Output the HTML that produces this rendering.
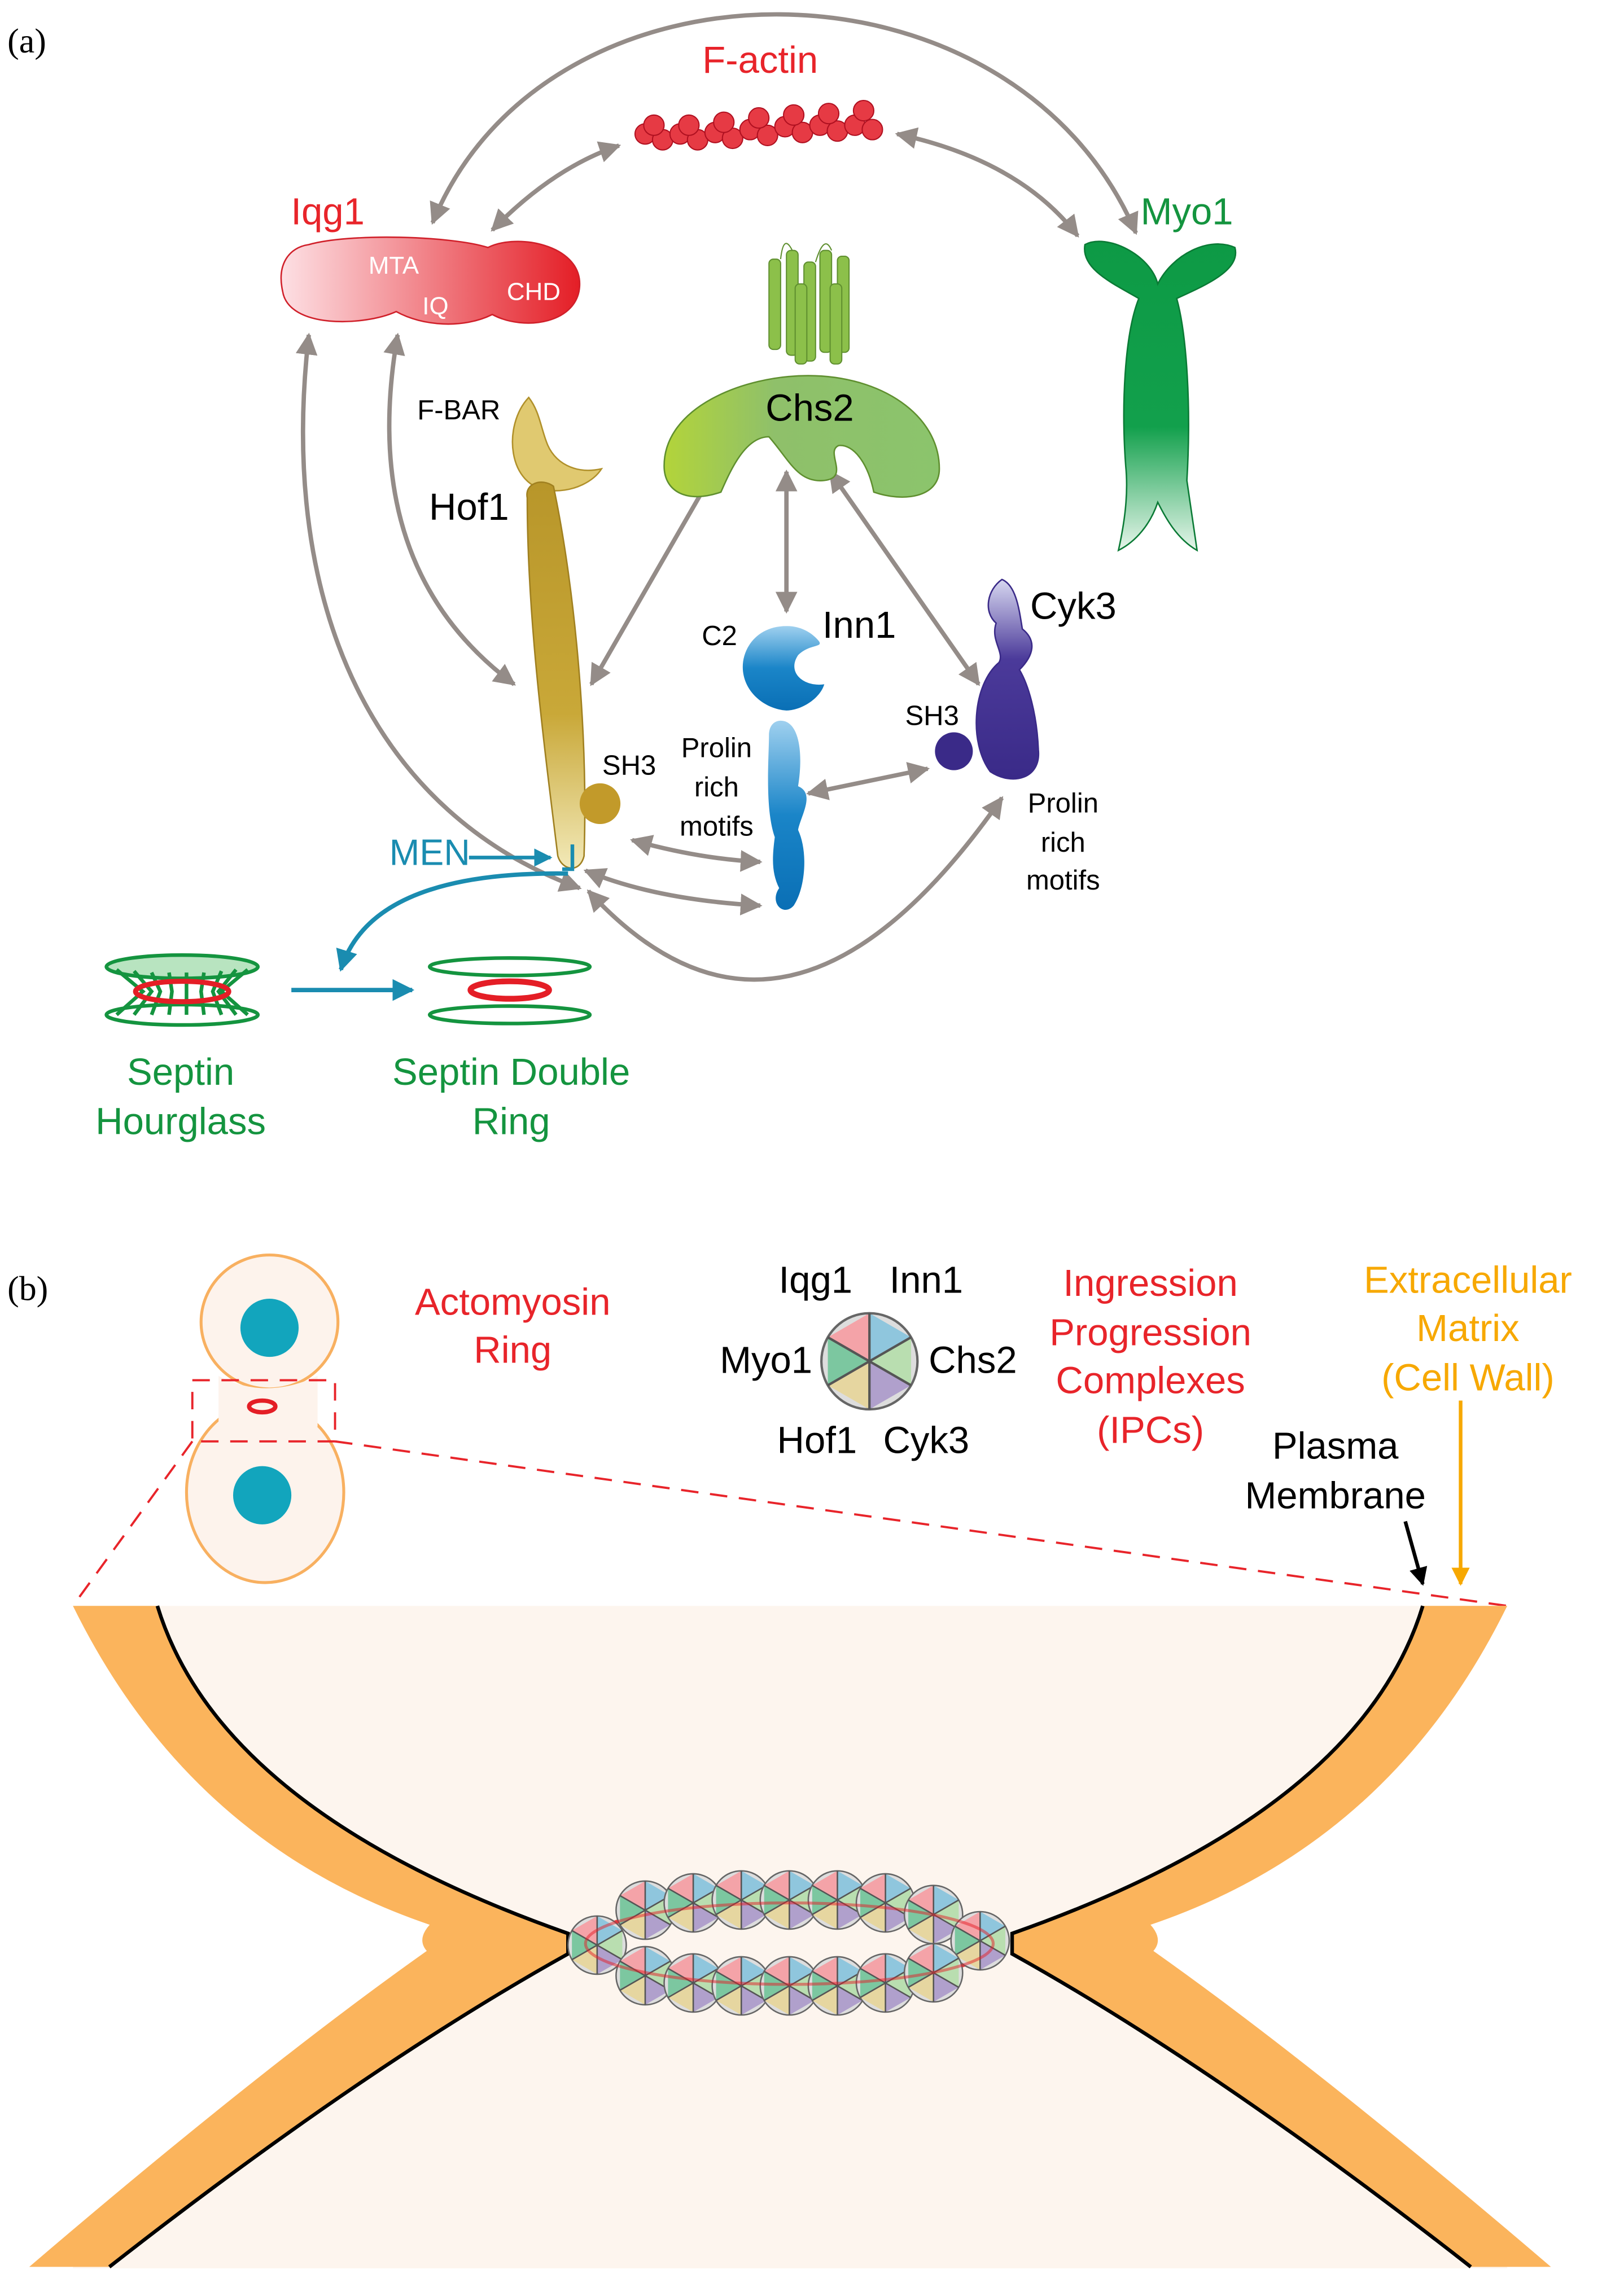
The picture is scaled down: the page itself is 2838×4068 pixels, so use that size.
<!DOCTYPE html>
<html><head><meta charset="utf-8"><style>
html,body{margin:0;padding:0;background:#fff}
svg{display:block}
text{font-family:"Liberation Sans",sans-serif}
</style></head><body>
<svg width="2838" height="4068" viewBox="0 0 1100 1577" xmlns="http://www.w3.org/2000/svg">
<defs>
<marker id="ah" viewBox="0 0 10 10" refX="9" refY="5" markerWidth="5" markerHeight="5" orient="auto-start-reverse"><path d="M0,0L10,5L0,10z" fill="#948c88"/></marker>
<marker id="bh" viewBox="0 0 10 10" refX="9" refY="5" markerWidth="5" markerHeight="5" orient="auto"><path d="M0,0L10,5L0,10z" fill="#1a8cb0"/></marker>
<marker id="kh" viewBox="0 0 10 10" refX="9" refY="5" markerWidth="5" markerHeight="5" orient="auto"><path d="M0,0L10,5L0,10z" fill="#000"/></marker>
<marker id="oh" viewBox="0 0 10 10" refX="9" refY="5" markerWidth="5" markerHeight="5" orient="auto"><path d="M0,0L10,5L0,10z" fill="#f7a800"/></marker>
<linearGradient id="gi" x1="0" x2="1"><stop offset="0" stop-color="#fde0e4"/><stop offset="1" stop-color="#e41e26"/></linearGradient>
<linearGradient id="gm" x1="0" y1="0" x2="0" y2="1"><stop offset="0" stop-color="#0d9a45"/><stop offset=".6" stop-color="#12a04c"/><stop offset="1" stop-color="#e6f5ea"/></linearGradient>
<linearGradient id="gc" x1="0" x2="1"><stop offset="0" stop-color="#b3d43a"/><stop offset=".4" stop-color="#8fc06a"/><stop offset="1" stop-color="#8bc46c"/></linearGradient>
<linearGradient id="gh" x1="0" y1="0" x2="0" y2="1"><stop offset="0" stop-color="#b8962a"/><stop offset=".6" stop-color="#c9a838"/><stop offset="1" stop-color="#f2e9b8"/></linearGradient>
<linearGradient id="gb" x1="0" y1="0" x2="0" y2="1"><stop offset="0" stop-color="#9fd0ef"/><stop offset=".5" stop-color="#1a85c8"/><stop offset="1" stop-color="#0a6fb5"/></linearGradient>
<linearGradient id="gp" x1="0" y1="0" x2="0" y2="1"><stop offset="0" stop-color="#d7d7f0"/><stop offset=".4" stop-color="#4b3a9a"/><stop offset="1" stop-color="#3a2a88"/></linearGradient>
<g id="pie">
<path d="M0,0L0,-1L.866,-.5z" fill="#8fc6dd"/>
<path d="M0,0L.866,-.5L.866,.5z" fill="#b9deb0"/>
<path d="M0,0L.866,.5L0,1z" fill="#b0a0cc"/>
<path d="M0,0L0,1L-.866,.5z" fill="#e6d6a0"/>
<path d="M0,0L-.866,.5L-.866,-.5z" fill="#7cc7a0"/>
<path d="M0,0L-.866,-.5L0,-1z" fill="#f4a3a8"/>
</g>
<g id="sp"><circle r="1" fill="#ddd"/><use href="#pie"/><circle r="1" fill="none" stroke="#666" stroke-width=".05"/><path d="M0,-1L0,1M-.866,-.5L.866,.5M-.866,.5L.866,-.5" stroke="#555" stroke-width=".05"/></g>
</defs>

<text x="5" y="36" font-size="24" style="font-family:'Liberation Serif',serif">(a)</text>
<text x="5" y="893" font-size="24" style="font-family:'Liberation Serif',serif">(b)</text>

<g fill="none" stroke="#948c88" stroke-width="3" marker-start="url(#ah)" marker-end="url(#ah)">
<path d="M297,153 C375,-39 695,-39 780,160"/>
<path d="M338,158 Q380,115 425,100"/>
<path d="M616,92 Q700,110 740,162"/>
<path d="M212,230 C190,420 260,560 398,610"/>
<path d="M273,230 Q245,390 353,470"/>
<path d="M406,470 L490,324"/>
<path d="M540,324 L540,420"/>
<path d="M570,324 L672,470"/>
<path d="M555,545 L637,528"/>
<path d="M434,577 Q480,590 522,592"/>
<path d="M402,598 Q450,618 522,622"/>
<path d="M404,612 Q540,760 688,548"/>
</g>

<text x="522" y="50" font-size="26" fill="#e8242a" text-anchor="middle">F-actin</text>
<g fill="#e63a44" stroke="#b01020" stroke-width=".8">
<circle cx="443" cy="92" r="7"/><circle cx="455" cy="96" r="7"/><circle cx="467" cy="92" r="7"/><circle cx="479" cy="96" r="7"/><circle cx="491" cy="91" r="7"/><circle cx="503" cy="95" r="7"/><circle cx="515" cy="89" r="7"/><circle cx="527" cy="93" r="7"/><circle cx="539" cy="87" r="7"/><circle cx="551" cy="91" r="7"/><circle cx="563" cy="86" r="7"/><circle cx="575" cy="90" r="7"/><circle cx="587" cy="86" r="7"/><circle cx="599" cy="89" r="7"/>
<circle cx="449" cy="86" r="7"/><circle cx="473" cy="86" r="7"/><circle cx="497" cy="84" r="7"/><circle cx="521" cy="81" r="7"/><circle cx="545" cy="79" r="7"/><circle cx="569" cy="78" r="7"/><circle cx="593" cy="76" r="7"/>
</g>

<text x="225" y="154" font-size="26" fill="#e8242a" text-anchor="middle">Iqg1</text>
<path d="M212,168 C240,160 310,162 335,170 C355,160 398,168 398,195 C398,222 360,228 338,216 C318,226 290,224 272,214 C250,224 198,226 194,200 C190,182 198,170 212,168Z" fill="url(#gi)" stroke="#d0202a" stroke-width="1"/>
<g fill="#fff" font-size="17"><text x="253" y="188">MTA</text><text x="290" y="216">IQ</text><text x="348" y="206">CHD</text></g>

<text x="815" y="154" font-size="26" fill="#14943f" text-anchor="middle">Myo1</text>
<path d="M745,168 C760,160 790,175 795,195 C805,175 830,162 848,170 C852,185 830,195 808,205 C815,230 818,280 815,330 C818,350 820,365 822,378 C808,370 800,355 795,345 C790,360 780,372 768,378 C772,360 775,340 773,320 C770,280 772,230 782,205 C765,195 742,185 745,168Z" fill="url(#gm)" stroke="#0a7a35" stroke-width="1"/>

<g fill="#8cc04a" stroke="#5f8f2f" stroke-width=".8">
<rect x="528" y="178" width="8" height="62" rx="3"/><rect x="540" y="172" width="8" height="72" rx="3"/><rect x="552" y="180" width="8" height="68" rx="3"/><rect x="563" y="172" width="8" height="70" rx="3"/><rect x="575" y="176" width="8" height="66" rx="3"/><rect x="546" y="195" width="8" height="55" rx="3"/><rect x="570" y="195" width="8" height="55" rx="3"/>
<path d="M536,178 Q538,160 544,172M560,180 Q566,160 571,172" fill="none"/>
</g>
<path d="M456,320 C456,280 510,258 555,258 C605,258 645,285 645,322 C645,342 620,345 600,338 C596,318 586,305 576,306 C566,310 584,328 566,330 C548,332 542,316 528,300 C512,300 502,322 495,338 C472,346 456,338 456,320Z" fill="url(#gc)" stroke="#5f8f2f" stroke-width="1"/>
<text x="556" y="289" font-size="26" text-anchor="middle">Chs2</text>

<text x="315" y="288" font-size="19" text-anchor="middle">F-BAR</text>
<text x="322" y="357" font-size="26" text-anchor="middle">Hof1</text>
<path d="M363,273 C345,292 348,335 378,337 C395,338 408,330 413,322 C395,326 380,318 375,303 C371,292 370,282 363,273Z" fill="#e0c970" stroke="#b0902a" stroke-width="1"/>
<path d="M362,342 C360,332 372,328 380,334 C394,400 404,500 401,588 C398,600 386,598 383,588 C372,500 362,420 362,342Z" fill="url(#gh)" stroke="#a08020" stroke-width="1"/>
<circle cx="412" cy="552" r="14" fill="#c29a2a"/>
<text x="432" y="532" font-size="19" text-anchor="middle">SH3</text>

<text x="494" y="443" font-size="19" text-anchor="middle">C2</text>
<text x="590" y="438" font-size="26" text-anchor="middle">Inn1</text>
<path d="M540,430 C520,430 510,445 510,458 C510,475 525,487 540,488 C550,488 563,480 566,470 C552,472 540,462 548,450 C556,442 566,445 562,440 C556,433 548,430 540,430Z" fill="url(#gb)"/>
<path d="M536,495 C548,495 552,515 548,540 C560,545 550,560 548,570 C555,585 553,610 545,622 C538,630 528,620 535,610 C530,600 530,590 532,575 C525,555 528,520 528,505 C528,498 532,495 536,495Z" fill="url(#gb)"/>
<g font-size="19" text-anchor="middle"><text x="492" y="520">Prolin</text><text x="492" y="547">rich</text><text x="492" y="574">motifs</text></g>

<text x="737" y="425" font-size="26" text-anchor="middle">Cyk3</text>
<path d="M688,398 C678,405 675,420 684,428 C680,440 690,448 686,455 C668,470 665,510 680,530 C695,540 715,535 713,515 C712,490 706,470 700,460 C710,450 712,440 702,432 C700,420 698,402 688,398Z" fill="url(#gp)" stroke="#3a2a88" stroke-width="1"/>
<circle cx="655" cy="516" r="13" fill="#3a2a88"/>
<text x="640" y="498" font-size="19" text-anchor="middle">SH3</text>
<g font-size="19" text-anchor="middle"><text x="730" y="558">Prolin</text><text x="730" y="585">rich</text><text x="730" y="611">motifs</text></g>

<text x="295" y="594" font-size="25" fill="#1a8cb0" text-anchor="middle">MEN</text>
<path d="M322,589 L378,589" stroke="#1a8cb0" stroke-width="2.5" marker-end="url(#bh)"/>
<path d="M393,580 L393,597 L386,597" stroke="#1a8cb0" stroke-width="2.5" fill="none"/>
<path d="M390,600 Q255,598 234,666" stroke="#1a8cb0" stroke-width="3" fill="none" marker-end="url(#bh)"/>
<path d="M200,680 L283,680" stroke="#1a8cb0" stroke-width="3" marker-end="url(#bh)"/>

<g stroke="#14943f" stroke-width="2.5" fill="none">
<ellipse cx="125" cy="664" rx="52" ry="8" fill="#b8e4c0"/>
<path d="M80,666 L98,681 L80,697 M170,666 L152,681 L170,697 M92,667 L104,681 L92,697 M104,668 L110,681 L104,697 M116,668 L118,681 L116,697 M128,668 L128,681 L128,697 M140,668 L138,681 L140,697 M152,667 L146,681 L152,697 M162,666 L150,681 L162,697"/>
<ellipse cx="125" cy="697" rx="52" ry="7"/>
</g>
<ellipse cx="125" cy="681" rx="32" ry="7" fill="none" stroke="#e41e26" stroke-width="3.5"/>
<ellipse cx="350" cy="664" rx="55" ry="6" fill="none" stroke="#14943f" stroke-width="2.5"/>
<ellipse cx="350" cy="680" rx="27" ry="6" fill="none" stroke="#e41e26" stroke-width="4"/>
<ellipse cx="350" cy="697" rx="55" ry="6" fill="none" stroke="#14943f" stroke-width="2.5"/>
<g font-size="26" fill="#14943f" text-anchor="middle"><text x="124" y="745">Septin</text><text x="124" y="779">Hourglass</text><text x="351" y="745">Septin Double</text><text x="351" y="779">Ring</text></g>

<ellipse cx="182" cy="1025" rx="54" ry="62" fill="#fdf3ec" stroke="#f8b060" stroke-width="2"/>
<ellipse cx="185" cy="908" rx="47" ry="46" fill="#fdf3ec" stroke="#f8b060" stroke-width="2"/>
<path d="M150,945 Q182,962 218,945 L218,980 Q182,960 150,980Z" fill="#fdf3ec"/>
<circle cx="185" cy="912" r="20" fill="#12a5bd"/>
<circle cx="180" cy="1027" r="20" fill="#12a5bd"/>
<ellipse cx="180" cy="966" rx="9" ry="4" fill="none" stroke="#e41e26" stroke-width="3"/>
<g stroke="#e8242a" stroke-width="1.5" stroke-dasharray="12 8" fill="none">
<rect x="132" y="948" width="98" height="42"/>
<path d="M132,990 L50,1103 M230,990 L1035,1103"/>
</g>
<g font-size="26" fill="#e8242a" text-anchor="middle"><text x="352" y="903">Actomyosin</text><text x="352" y="936">Ring</text>
<text x="790" y="890">Ingression</text><text x="790" y="924">Progression</text><text x="790" y="957">Complexes</text><text x="790" y="991">(IPCs)</text></g>
<g font-size="26" fill="#f7a800" text-anchor="middle"><text x="1008" y="888">Extracellular</text><text x="1008" y="921">Matrix</text><text x="1008" y="955">(Cell Wall)</text></g>
<g font-size="26" text-anchor="middle"><text x="917" y="1002">Plasma</text><text x="917" y="1036">Membrane</text>
<text x="560" y="888">Iqg1</text><text x="636" y="888">Inn1</text><text x="526" y="943">Myo1</text><text x="668" y="943">Chs2</text><text x="561" y="998">Hof1</text><text x="636" y="998">Cyk3</text></g>
<use href="#sp" transform="translate(597,935) scale(33)"/>
<path d="M965,1045 L977,1088" stroke="#000" stroke-width="2.5" marker-end="url(#kh)"/>
<path d="M1003,962 L1003,1088" stroke="#f7a800" stroke-width="2.5" marker-end="url(#oh)"/>

<rect x="50" y="1103" width="985" height="455" fill="#fdf5ee"/>
<path d="M0,1103 L50,1103 Q130,1266 295,1322 Q300,1335 293,1340 Q180,1420 20,1557 L0,1557Z M1100,1103 L1035,1103 Q955,1266 790,1322 Q785,1335 792,1340 Q905,1420 1065,1557 L1100,1557Z" fill="#fff"/>
<path d="M50,1103 L108,1103 Q151,1244 390,1328 L390,1342 Q250,1420 75,1557 L20,1557 Q180,1420 293,1340 Q286,1332 295,1322 Q130,1266 50,1103Z" fill="#fbb45c"/>
<path d="M1035,1103 L977,1103 Q934,1244 695,1328 L695,1342 Q835,1420 1010,1557 L1065,1557 Q905,1420 792,1340 Q799,1332 790,1322 Q955,1266 1035,1103Z" fill="#fbb45c"/>
<path d="M108,1103 Q151,1244 390,1328 L390,1342 Q250,1420 75,1557" fill="none" stroke="#000" stroke-width="2.5"/>
<path d="M977,1103 Q934,1244 695,1328 L695,1342 Q835,1420 1010,1557" fill="none" stroke="#000" stroke-width="2.5"/>

<ellipse cx="542" cy="1335" rx="140" ry="28" fill="none" stroke="#e41e26" stroke-width="3" opacity=".8"/>
<g>
<use href="#sp" transform="translate(410,1336) scale(20)"/>
<use href="#sp" transform="translate(443,1312) scale(20)"/>
<use href="#sp" transform="translate(476,1307) scale(20)"/>
<use href="#sp" transform="translate(509,1305) scale(20)"/>
<use href="#sp" transform="translate(542,1305) scale(20)"/>
<use href="#sp" transform="translate(575,1305) scale(20)"/>
<use href="#sp" transform="translate(608,1307) scale(20)"/>
<use href="#sp" transform="translate(641,1315) scale(20)"/>
<use href="#sp" transform="translate(673,1333) scale(20)"/>
<use href="#sp" transform="translate(443,1357) scale(20)"/>
<use href="#sp" transform="translate(476,1362) scale(20)"/>
<use href="#sp" transform="translate(509,1364) scale(20)"/>
<use href="#sp" transform="translate(542,1364) scale(20)"/>
<use href="#sp" transform="translate(575,1364) scale(20)"/>
<use href="#sp" transform="translate(608,1362) scale(20)"/>
<use href="#sp" transform="translate(641,1355) scale(20)"/>
</g>
<ellipse cx="542" cy="1335" rx="140" ry="28" fill="none" stroke="#e41e26" stroke-width="2" opacity=".5"/>
</svg>
</body></html>
